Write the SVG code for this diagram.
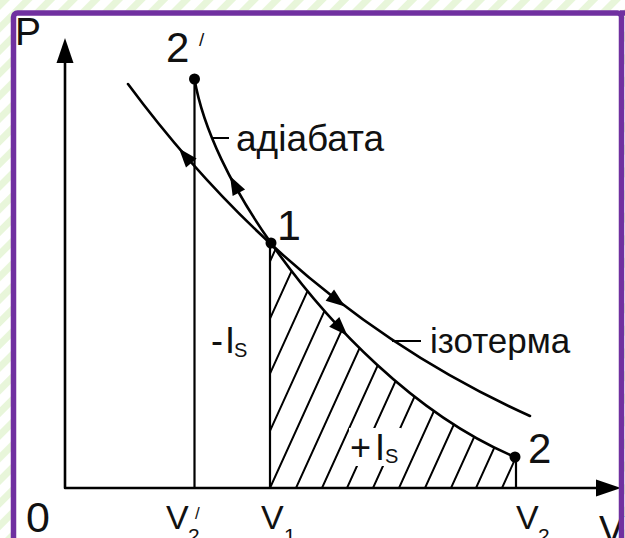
<svg xmlns="http://www.w3.org/2000/svg" width="625" height="538" viewBox="0 0 625 538">
<defs>
<pattern id="bg" width="16" height="16" patternUnits="userSpaceOnUse" patternTransform="rotate(45)">
<rect width="16" height="16" fill="#ffffff"/>
<rect width="7" height="16" fill="#e8f6da"/>
</pattern>
<clipPath id="hatchClip"><path d="M271,243 C327,323 415,415 515,457 L516,457 L516,488 L270,488 L270,243 Z"/></clipPath>
<path id="ah" d="M0,0 L-19,-7 L-19,7 Z"/>
</defs>
<style>
.ln{stroke:#000;stroke-width:2.6;fill:none;stroke-linecap:round}
.th{stroke:#000;stroke-width:2.2;fill:none}
.h{stroke:#000;stroke-width:2}
.t{font-family:"Liberation Sans",Arial,sans-serif;fill:#111}
</style>
<rect width="625" height="538" fill="url(#bg)"/>
<rect x="13.5" y="13" width="608" height="560" rx="4" fill="#fff"/>

<g id="hatching" clip-path="url(#hatchClip)">
<path class="h" d="M157,510 L307,180 M183,510 L333,180 M208,510 L358,180 M234,510 L384,180 M260,510 L410,180 M286,510 L436,180 M312,510 L462,180 M337,510 L487,180 M363,510 L513,180 M389,510 L539,180 M415,510 L565,180 M441,510 L591,180 M466,510 L616,180 M492,510 L642,180"/>
</g>
<rect x="349" y="428" width="52" height="38" fill="#fff"/>

<g id="axes">
<path class="ln" d="M65,488 V60 M65,488 H600"/>
<path d="M65,38 L56.5,63 L73.5,63 Z"/>
<path d="M621,488 L596,479.5 L596,496.5 Z"/>
</g>

<g id="connectors">
<path class="th" d="M194.5,79 V488 M270,243 V488 M516,457 V488"/>
<path id="isotherm" class="ln" d="M128,84 C258,259.5 400,357.5 530,416"/>
<path id="adiabat" class="ln" d="M194.5,79 C203,129 232,188 271,243 C327,323 415,415 515,457"/>
<use href="#ah" transform="translate(179,148.5) rotate(229.6)"/>
<use href="#ah" transform="translate(345,306.6) rotate(37.1)"/>
<use href="#ah" transform="translate(230,176) rotate(242.2)"/>
<use href="#ah" transform="translate(347.4,335.6) rotate(46.2)"/>
<path class="th" d="M213,138 H229 M392,341 H421"/>
</g>

<g id="point-2prime"><circle cx="194.5" cy="79" r="5.5"/><text class="t" x="166" y="62" font-size="42">2</text><text class="t" x="199" y="46" font-size="19">/</text></g>
<g id="point-1"><circle cx="271" cy="243" r="5.5"/><text class="t" x="277" y="240" font-size="43">1</text></g>
<g id="point-2"><circle cx="515" cy="457" r="5.5"/><text class="t" x="528" y="463" font-size="42">2</text></g>

<g id="labels">
<text class="t" x="15" y="45" font-size="39">P</text>
<text class="t" x="236" y="151" font-size="37">адіабата</text>
<text class="t" x="430" y="353" font-size="35">ізотерма</text>
<text class="t" x="211" y="353" font-size="36">-<tspan x="225">I</tspan><tspan x="234" y="357" font-size="20">S</tspan></text>
<text class="t" x="350" y="460" font-size="36">+<tspan x="375">I</tspan><tspan x="385" y="463" font-size="20">S</tspan></text>
<text class="t" x="26" y="532" font-size="43">0</text>
<text class="t" x="166" y="529" font-size="34">V<tspan x="188" y="543" font-size="21">2</tspan></text>
<text class="t" x="195" y="519" font-size="17">/</text>
<text class="t" x="261" y="529" font-size="34">V<tspan x="284" y="543" font-size="21">1</tspan></text>
<text class="t" x="516" y="529" font-size="34">V<tspan x="538" y="543" font-size="21">2</tspan></text>
<text class="t" x="599" y="543" font-size="38">V</text>
</g>

<rect x="13.5" y="13" width="608" height="560" rx="4" fill="none" stroke="#7030a0" stroke-width="5.5"/>
<rect x="620" y="10.25" width="5" height="5.5" fill="#7030a0"/>
</svg>
